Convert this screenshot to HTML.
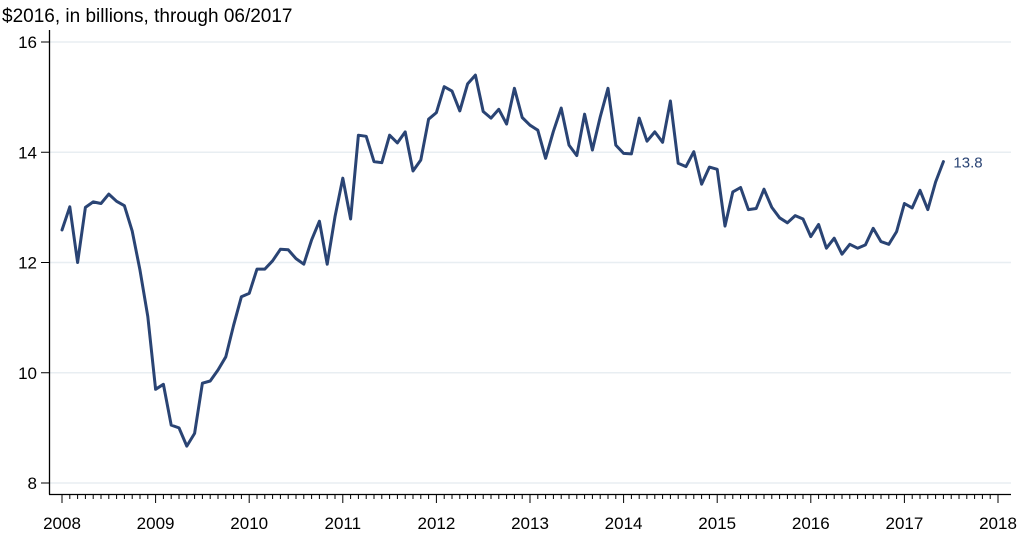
<!DOCTYPE html>
<html><head><meta charset="utf-8"><style>
body{margin:0;background:#fff;}
svg{display:block;font-family:"Liberation Sans",Arial,sans-serif;}
</style></head><body>
<svg id="chart" width="1024" height="536" viewBox="0 0 1024 536">
<text x="2" y="22" font-size="19" fill="#000">$2016, in billions, through 06/2017</text>
<g id="grid"></g>
<g id="axes"></g>
<g id="series"></g>
</svg>
<script>
const yTicks=[8,10,12,14,16];
const xTickLabels=["2008","2009","2010","2011","2012","2013","2014","2015","2016","2017","2018"];
const values2008=[12.59,13.01,12.0,13.0,13.1,13.07,13.24,13.11,13.03,12.57,11.86,11.02];
const values2009=[9.70,9.79,9.05,9.0,8.67,8.90,9.81,9.85,10.05,10.29,10.86,11.38];
const values2010=[11.44,11.88,11.88,12.03,12.24,12.23,12.07,11.97,12.41,12.75,11.97,12.83];
const values2011=[13.53,12.79,14.31,14.29,13.83,13.81,14.31,14.17,14.37,13.66,13.86,14.60];
const values2012=[14.72,15.19,15.11,14.75,15.24,15.40,14.74,14.62,14.78,14.51,15.16,14.63];
const values2013=[14.49,14.40,13.89,14.38,14.80,14.13,13.94,14.69,14.04,14.64,15.16,14.13];
const values2014=[13.98,13.97,14.62,14.20,14.37,14.18,14.93,13.80,13.74,14.01,13.42,13.73];
const values2015=[13.69,12.66,13.28,13.36,12.96,12.98,13.33,13.0,12.81,12.72,12.85,12.79];
const values2016=[12.47,12.69,12.26,12.44,12.15,12.33,12.26,12.32,12.62,12.38,12.33,12.56];
const values2017=[13.07,12.99,13.31,12.96,13.46,13.83];
const startYear=2008;

const NS="http://www.w3.org/2000/svg";
const series=[].concat(values2008,values2009,values2010,values2011,values2012,values2013,values2014,values2015,values2016,values2017);
const X0=62,X1=998,Y8=483,Y16=42;
function xScale(m){return X0+(X1-X0)*m/((xTickLabels.length-1)*12);}
function yScale(v){return Y8+(Y16-Y8)*(v-8)/8;}
function mk(tag,attrs,parent){const e=document.createElementNS(NS,tag);for(const k in attrs)e.setAttribute(k,attrs[k]);parent.appendChild(e);return e;}
const grid=document.getElementById('grid'),axes=document.getElementById('axes'),ser=document.getElementById('series');
yTicks.forEach(t=>{
  const y=yScale(t);
  const g=mk('line',{x1:50,x2:1011,y1:y,y2:y,stroke:'#e8eef2','stroke-width':1.5},grid);
  
  
  const tk=mk('line',{x1:41,x2:50,y1:y,y2:y,stroke:'#000','stroke-width':1},axes);
  
  
  const lb=mk('text',{x:37,y:y+6,'text-anchor':'end','font-size':17,fill:'#000'},axes);
  lb.textContent=t;
  
  
});
const ya=mk('line',{x1:49.5,x2:49.5,y1:30,y2:494.5,stroke:'#000','stroke-width':1.3},axes);


const xa=mk('line',{x1:49,x2:1011,y1:494.5,y2:494.5,stroke:'#000','stroke-width':1.3},axes);


const nMonths=(xTickLabels.length-1)*12;
for(let m=0;m<=nMonths;m++){
  const x=xScale(m),major=m%12===0;
  const t=mk('line',{x1:x,x2:x,y1:494,y2:major?503:499,stroke:'#000','stroke-width':1},axes);
  
  
  if(major){
    const lb=mk('text',{x:x,y:529,'text-anchor':'middle','font-size':17,fill:'#000'},axes);
    lb.textContent=xTickLabels[m/12];
    
    
  }
}
const pts=series.map((v,i)=>xScale(i).toFixed(1)+','+yScale(v).toFixed(1)).join(' ');
const pl=mk('polyline',{points:pts,fill:'none',stroke:'#2a4474','stroke-width':3,'stroke-linejoin':'round','stroke-linecap':'round'},ser);


const last=series.length-1;
const el=mk('text',{x:xScale(last)+10,y:yScale(series[last])+6,'font-size':15,fill:'#2a4474'},ser);
el.textContent=series[last].toFixed(1);


</script>
</body></html>
